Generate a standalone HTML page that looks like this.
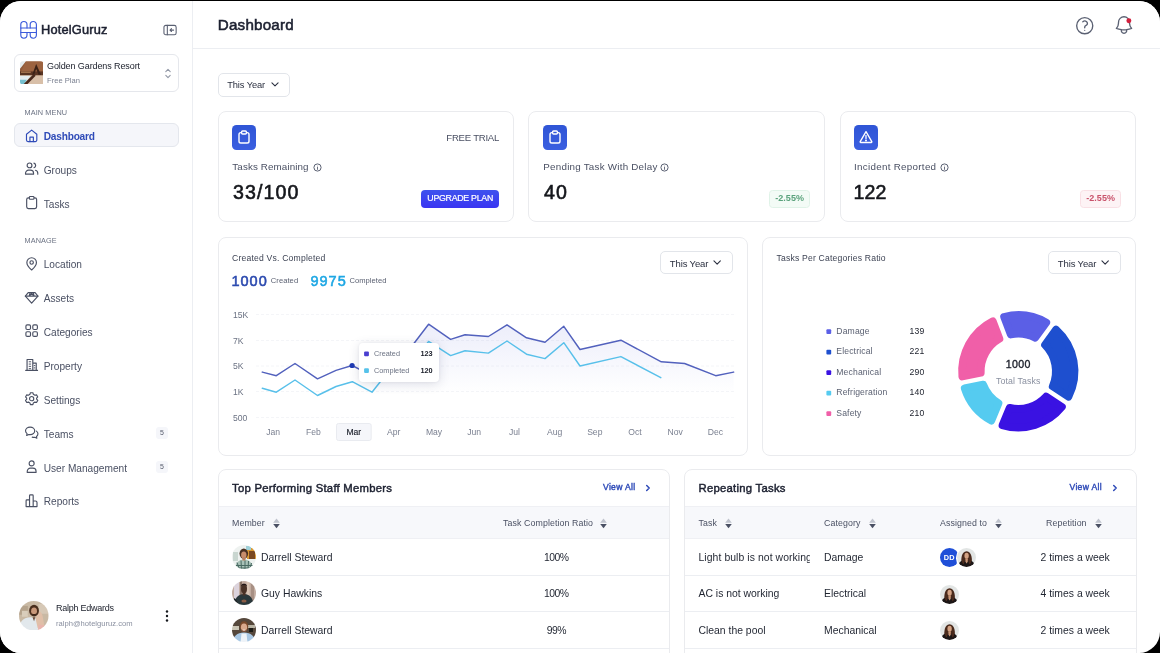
<!DOCTYPE html>
<html>
<head>
<meta charset="utf-8">
<title>Dashboard</title>
<style>
*{box-sizing:border-box;margin:0;padding:0}
html,body{width:1160px;height:653px;overflow:hidden;background:#000;font-family:"Liberation Sans",sans-serif;color:#1f2430}
#app{position:absolute;left:0;top:1px;width:1160px;height:652px;background:#fff;border-radius:21px;overflow:hidden}
.abs{position:absolute}
.t{position:absolute;white-space:nowrap;line-height:1}
#side,#head,#content{will-change:transform}
#side{position:absolute;left:0;top:0;width:193px;height:100%;border-right:1px solid #eceef2;background:#fff}
#head{position:absolute;left:193px;top:0;right:0;height:48px;border-bottom:1px solid #eceef2;background:#fff}
.card{position:absolute;background:#fff;border:1px solid #eaebee;border-radius:8px}
.mi{position:absolute;left:43.700px;font-size:10.150px;color:#4a5063;white-space:nowrap;line-height:1;letter-spacing:0}
.ic{position:absolute;left:24.100px;width:15.300px;height:15.300px;stroke:#4a5063;fill:none;stroke-width:1.200;stroke-linecap:round;stroke-linejoin:round}
.lbl{position:absolute;left:24.500px;font-size:7.300px;color:#6b7283;letter-spacing:.1px;line-height:1}
.badge{position:absolute;left:156px;width:12px;height:12px;border-radius:3px;background:#f5f6fa;font-size:7px;color:#555b6b;text-align:center;line-height:12px}
.btn{position:absolute;border:1px solid #e2e5ea;border-radius:5px;background:#fff;font-size:9px;color:#2b3040;line-height:1}

.sq{position:absolute;width:24px;height:24.700px;border-radius:4.5px;background:linear-gradient(180deg,#2f55d6,#3b5fe0)}
.sl{font-size:9.800px;color:#4a5063;letter-spacing:.120px}
.big{font-size:19.600px;color:#15171c;-webkit-text-stroke:.600px #15171c;letter-spacing:1.100px}
.tt{font-size:11.300px;color:#1c2030;-webkit-text-stroke:.450px #1c2030;letter-spacing:.260px}
.va{font-size:8.600px;color:#2f4bb8;-webkit-text-stroke:.400px #2f4bb8;letter-spacing:.300px}
.th{font-size:8.8px;color:#4a5063;letter-spacing:.1px}
.td{font-size:10.400px;color:#1f2430;letter-spacing:0}
</style>
</head>
<body>
<div id="app">

<!-- SIDEBAR -->
<div id="side">
  <svg class="abs" style="left:19px;top:17.700px" width="20" height="22" viewBox="0 0 20 22" fill="none" stroke="#3b5bdb" stroke-width="1.15" stroke-linecap="round" stroke-linejoin="round">
    <path d="M1.8 9V5.600a3.100 3.100 0 0 1 6.200 0V9M11.200 9V5.600a3.100 3.100 0 0 1 6.200 0V9"/>
    <path d="M1.800 13.500v2.600a3.100 3.100 0 0 0 6.200 0v-2.600M11.200 13.500v2.600a3.100 3.100 0 0 0 6.200 0v-2.600"/>
    <path d="M1.800 9h15.600v4.500H1.800z"/>
  </svg>
  <div class="t" style="left:41px;top:23.400px;font-size:12.800px;color:#1c2030;-webkit-text-stroke:.500px #1c2030;letter-spacing:.180px">HotelGuruz</div>
  <svg class="abs" style="left:162.500px;top:22.700px" width="14.100" height="12.200" viewBox="0 0 15 13" fill="none" stroke="#5a6072" stroke-width="1.150" stroke-linecap="round" stroke-linejoin="round">
    <rect x="1" y="1.5" width="13" height="10" rx="2"/><path d="M4.600 1.500v10M11.300 6.500H7.600M9 5 7.500 6.500 9 8"/>
  </svg>

  <div class="abs" style="left:14px;top:53px;width:165px;height:38px;border:1px solid #e5e7ec;border-radius:6px"></div>
  <svg class="abs" style="left:19.700px;top:59.700px" width="23.500" height="23.800" viewBox="0 0 24 24"><defs><clipPath id="ct"><rect width="24" height="24" rx="3"/></clipPath><filter id="bl2" x="-10%" y="-10%" width="120%" height="120%"><feGaussianBlur stdDeviation=".800"/></filter></defs><g clip-path="url(#ct)"><g filter="url(#bl2)"><rect x="-2" y="-2" width="28" height="28" fill="#8f5a3a"/><path d="M-1 -1h8L-1 9z" fill="#e4eaec"/><path d="M6 0h19v11H1z" fill="#9c633f"/><path d="M-1 10.500h26v4H-1z" fill="#5a3423"/><path d="M1 11.300h10" stroke="#d9a070" stroke-width=".800"/><path d="M-1 14.500h26v11H-1z" fill="#d8bfa8"/><path d="M-1 15h12l-8 10H-1z" fill="#e6eef0"/><path d="M-1 19h8l-4 6h-4z" fill="#76c0cf"/><path d="M16.500 3l-4 11h2l2-6 2.500 6h2.500z" fill="#3a2118"/><path d="M14 13l2 2L6 25H2z" fill="#4a2b1f"/><path d="M12 24h13v2H12z" fill="#7a4a34"/></g></g></svg>
  <div class="t" style="left:47px;top:61px;font-size:9px;color:#20242f;letter-spacing:-.100px">Golden Gardens Resort</div>
  <div class="t" style="left:47px;top:76px;font-size:7.6px;color:#7b8191">Free Plan</div>
  <svg class="abs" style="left:163.900px;top:65.600px" width="8" height="13" viewBox="0 0 8 13" fill="none" stroke="#9298a6" stroke-width="1.100" stroke-linecap="round" stroke-linejoin="round"><path d="M1.800 4.600 4 2.4l2.2 2.2M1.8 8.4 4 10.6l2.2-2.2"/></svg>

  <div class="lbl" style="top:107.900px">MAIN MENU</div>
  <div class="abs" style="left:14px;top:122.300px;width:165px;height:23.600px;border:1px solid #e4e7ed;border-radius:6px;background:#f5f6fa"></div>
  <svg class="ic" style="top:126.5px;stroke:#2f4bb8" viewBox="0 0 16 16"><path d="M2.6 6.6 8 2.200l5.400 4.400v6a1.600 1.600 0 0 1-1.600 1.600H4.200a1.600 1.600 0 0 1-1.600-1.600z"/><path d="M6.200 14.200V9.600h3.600v4.600"/></svg>
  <div class="mi" style="top:131.4px;color:#2f4bb8;font-weight:700;letter-spacing:-.2px">Dashboard</div>
  <svg class="ic" style="top:160.3px" viewBox="0 0 16 16"><circle cx="5.800" cy="4.600" r="2.500"/><path d="M1.600 13.800v-1a3.200 3.200 0 0 1 3.200-3.200h2a3.200 3.200 0 0 1 3.200 3.200v1z"/><path d="M10.400 2.200a2.500 2.500 0 0 1 0 4.800M12 9.700a3.200 3.200 0 0 1 2.400 3.100v1"/></svg>
  <div class="mi" style="top:165.2px">Groups</div>
  <svg class="ic" style="top:194.1px" viewBox="0 0 16 16"><rect x="2.800" y="3" width="10.400" height="11.200" rx="1.800"/><rect x="5.600" y="1.600" width="4.800" height="2.800" rx=".800" fill="#fff"/></svg>
  <div class="mi" style="top:199.0px">Tasks</div>
  <div class="lbl" style="top:236px">MANAGE</div>
  <svg class="ic" style="top:254.6px" viewBox="0 0 16 16"><path d="M8 14.600S3 10.400 3 6.800a5 5 0 0 1 10 0c0 3.600-5 7.800-5 7.800z"/><circle cx="8" cy="6.800" r="1.800"/></svg>
  <div class="mi" style="top:258.9px">Location</div>
  <svg class="ic" style="top:288.5px" viewBox="0 0 16 16"><path d="M4.400 2.800h7.200L14.600 6.400 8 13.800 1.400 6.400z"/><path d="M1.400 6.400h13.200M6.400 2.800 5.400 6.400M9.600 2.800l1 3.600M5.400 6.400 8 3.600l2.600 2.800"/></svg>
  <div class="mi" style="top:293.4px">Assets</div>
  <svg class="ic" style="top:322.3px" viewBox="0 0 16 16"><rect x="2" y="2" width="4.800" height="4.800" rx="1.300"/><rect x="9.200" y="2" width="4.800" height="4.800" rx="1.300"/><rect x="2" y="9.200" width="4.800" height="4.800" rx="1.300"/><rect x="9.200" y="9.200" width="4.800" height="4.800" rx="1.300"/></svg>
  <div class="mi" style="top:327.2px">Categories</div>
  <svg class="ic" style="top:356.2px" viewBox="0 0 16 16"><path d="M3.200 14V2.600h6V14M9.200 6.400h3.600V14M1.800 14h12.400"/><path d="M5.400 5h1.600M5.400 7.400h1.600M5.400 9.800h1.600M5.400 12.200h1.600M10.600 9h.8M10.600 11.400h.8" stroke-width="1"/></svg>
  <div class="mi" style="top:361.1px">Property</div>
  <svg class="ic" style="top:390.0px" viewBox="0 0 16 16"><path d="M6.700 1.800h2.600l.5 1.700 1.600.9 1.700-.4 1.300 2.200-1.200 1.300v1l1.200 1.300-1.300 2.200-1.700-.4-1.600.9-.5 1.700H6.700l-.5-1.700-1.600-.9-1.700.4-1.300-2.200 1.200-1.300v-1L1.600 6.200l1.300-2.200 1.700.4 1.600-.9z"/><circle cx="8" cy="8" r="2.200"/></svg>
  <div class="mi" style="top:394.9px">Settings</div>
  <svg class="ic" style="top:423.9px" viewBox="0 0 16 16"><path d="M6.400 2.200c-2.700 0-4.800 1.700-4.800 3.900 0 1.200.6 2.200 1.600 2.900l-.4 2 2.200-1.100c.5.100.9.100 1.400.100 2.700 0 4.800-1.700 4.800-3.900s-2.100-3.900-4.800-3.900z"/><path d="M13 6.400c1 .7 1.600 1.700 1.600 2.800s-.6 2.100-1.500 2.800l.3 1.900-2-1c-.9.200-2 .100-2.800-.2"/></svg>
  <div class="mi" style="top:428.8px">Teams</div>
  <div class="badge" style="top:425.6px">5</div>
  <svg class="ic" style="top:457.8px" viewBox="0 0 16 16"><circle cx="8" cy="4.600" r="2.600"/><path d="M3.400 14v-1.200a3.200 3.200 0 0 1 3.200-3.200h2.800a3.200 3.200 0 0 1 3.200 3.200V14z"/></svg>
  <div class="mi" style="top:462.7px">User Management</div>
  <div class="badge" style="top:459.5px">5</div>
  <svg class="ic" style="top:491.6px" viewBox="0 0 16 16"><path d="M2.200 14.200V8a.800.800 0 0 1 .800-.800h2.800v7zM5.800 14.200V2.800a.800.800 0 0 1 .800-.800h2.200a.800.800 0 0 1 .800.800v11.400zM9.600 14.200V8.400h2.400a1.600 1.600 0 0 1 1.600 1.600v4.200z"/></svg>
  <div class="mi" style="top:495.9px">Reports</div>

  <svg class="abs" style="left:19px;top:599.700px" width="29.500" height="29.500" viewBox="0 0 30 30"><use href="#avu"/></svg>
  <div class="t" style="left:56px;top:603px;font-size:9px;color:#20242f;letter-spacing:-.250px">Ralph Edwards</div>
  <div class="t" style="left:56px;top:619px;font-size:7.600px;color:#8a90a0">ralph@hotelguruz.com</div>
  <svg class="abs" style="left:164px;top:608px" width="6" height="14" viewBox="0 0 6 14"><circle cx="3" cy="2.500" r="1.200" fill="#15171c"/><circle cx="3" cy="7" r="1.200" fill="#15171c"/><circle cx="3" cy="11.500" r="1.200" fill="#15171c"/></svg>
</div>

<!-- HEADER -->
<div id="head">
  <div class="t" style="left:24.800px;top:16px;font-size:15.200px;color:#1c2030;-webkit-text-stroke:.550px #1c2030;letter-spacing:.190px">Dashboard</div>
  <svg class="abs" style="left:881.300px;top:13.500px" width="21.460" height="21.460" viewBox="0 0 24 24" fill="none" stroke="#5a6072" stroke-width="1.500" stroke-linecap="round" stroke-linejoin="round"><circle cx="12" cy="12" r="9"/><path d="M9.879 7.519c1.171-1.025 3.071-1.025 4.242 0 1.172 1.025 1.172 2.687 0 3.712-.203.179-.43.326-.67.442-.745.361-1.450.999-1.450 1.827v.750"/><circle cx="12" cy="17.100" r=".700" fill="#5a6072" stroke="none"/></svg>
  <svg class="abs" style="left:919.800px;top:12.500px" width="22" height="22" viewBox="0 0 24 24" fill="none" stroke="#5a6072" stroke-width="1.450" stroke-linecap="round" stroke-linejoin="round"><path d="M14.857 17.082a23.848 23.848 0 0 0 5.454-1.310A8.967 8.967 0 0 1 18 9.750V9A6 6 0 0 0 6 9v.750a8.967 8.967 0 0 1-2.312 6.022c1.733.640 3.560 1.085 5.455 1.310m5.714 0a24.255 24.255 0 0 1-5.714 0m5.714 0a3 3 0 1 1-5.714 0"/><circle cx="17.300" cy="7.300" r="2.700" fill="#d21f3c" stroke="none"/></svg>
</div>

<!-- CONTENT -->
<div id="content" class="abs" style="left:0;top:0;width:1160px;height:672px">
<!-- filter button -->
<div class="btn" style="left:218px;top:72px;width:72px;height:24px"></div>
<div class="t" style="left:227.200px;top:79.700px;font-size:9.300px;color:#2b3040;letter-spacing:-.100px">This Year</div>
<svg class="abs" style="left:270.500px;top:81.200px" width="8" height="5.300" viewBox="0 0 9 6" fill="none" stroke="#2b3040" stroke-width="1.2" stroke-linecap="round" stroke-linejoin="round"><path d="M1 1l3.500 3.500L8 1"/></svg>

<!-- stat cards -->
<div class="card" style="left:218px;top:110px;width:296px;height:111px"></div>
<div class="card" style="left:528px;top:110px;width:296.500px;height:111px"></div>
<div class="card" style="left:840px;top:110px;width:296px;height:111px"></div>

<div class="sq" style="left:232px;top:124.300px"><svg width="24" height="24" viewBox="0 0 24 24" fill="none" stroke="#fff" stroke-width="1.400" stroke-linecap="round" stroke-linejoin="round"><rect x="7" y="7.600" width="10" height="10.400" rx="1.800"/><rect x="9.600" y="6" width="4.800" height="3" rx="1" fill="#3258d8"/></svg></div>
<div class="sq" style="left:543px;top:124.300px"><svg width="24" height="24" viewBox="0 0 24 24" fill="none" stroke="#fff" stroke-width="1.400" stroke-linecap="round" stroke-linejoin="round"><rect x="7" y="7.600" width="10" height="10.400" rx="1.800"/><rect x="9.600" y="6" width="4.800" height="3" rx="1" fill="#3258d8"/></svg></div>
<div class="sq" style="left:854px;top:124.300px"><svg width="24" height="24" viewBox="0 0 24 24" fill="none" stroke="#fff" stroke-width="1.300" stroke-linecap="round" stroke-linejoin="round"><path d="M12 6.600 17.800 16.600a.6.600 0 0 1-.5.900H6.700a.6.600 0 0 1-.5-.9z"/><path d="M12 10.600v3"/><circle cx="12" cy="15.500" r=".400" fill="#fff"/></svg></div>

<div class="t sl" style="left:232.300px;top:160.700px">Tasks Remaining</div>
<div class="t sl" style="left:543.300px;top:160.700px;letter-spacing:.240px">Pending Task With Delay</div>
<div class="t sl" style="left:854.100px;top:160.700px;letter-spacing:.290px">Incident Reported</div>
<svg class="abs info" style="left:312.500px;top:161.500px" width="9" height="9" viewBox="0 0 9 9"><circle cx="4.500" cy="4.500" r="3.600" fill="none" stroke="#5a6072" stroke-width="1"/><path d="M4.500 4.200v2.200" stroke="#5a6072" stroke-width=".900" stroke-linecap="round"/><circle cx="4.500" cy="2.900" r=".450" fill="#5a6072"/></svg>
<svg class="abs info" style="left:660px;top:161.500px" width="9" height="9" viewBox="0 0 9 9"><circle cx="4.500" cy="4.500" r="3.600" fill="none" stroke="#5a6072" stroke-width="1"/><path d="M4.500 4.200v2.200" stroke="#5a6072" stroke-width=".900" stroke-linecap="round"/><circle cx="4.500" cy="2.900" r=".450" fill="#5a6072"/></svg>
<svg class="abs info" style="left:940px;top:161.500px" width="9" height="9" viewBox="0 0 9 9"><circle cx="4.500" cy="4.500" r="3.600" fill="none" stroke="#5a6072" stroke-width="1"/><path d="M4.500 4.200v2.200" stroke="#5a6072" stroke-width=".900" stroke-linecap="round"/><circle cx="4.500" cy="2.900" r=".450" fill="#5a6072"/></svg>

<div class="t big" style="left:233px;top:182.400px">33/100</div>
<div class="t big" style="left:544px;top:182.400px">40</div>
<div class="t big" style="left:853.600px;top:182.400px;letter-spacing:.100px">122</div>

<div class="t" style="left:446.300px;top:132.300px;font-size:9.600px;color:#4a5063;letter-spacing:-.250px">FREE TRIAL</div>
<div class="abs" style="left:421px;top:188.500px;width:78.300px;height:18px;border-radius:4px;background:linear-gradient(180deg,#3f52ee,#3a35f2)"></div>
<div class="t" style="left:427.300px;top:193px;font-size:8.800px;color:#fff;-webkit-text-stroke:.200px #fff;letter-spacing:-.270px">UPGRADE PLAN</div>

<div class="abs" style="left:769px;top:188.600px;width:41px;height:18.200px;border-radius:3.500px;background:#f3fbf6;border:1px solid #e0f3e8"></div>
<div class="t" style="left:775.200px;top:193.200px;font-size:9px;font-weight:700;color:#5aa27c;letter-spacing:.050px">-2.55%</div>
<div class="abs" style="left:1080px;top:188.600px;width:41px;height:18.200px;border-radius:3.500px;background:#fdf3f5;border:1px solid #f9e0e5"></div>
<div class="t" style="left:1086.200px;top:193.200px;font-size:9px;font-weight:700;color:#c9526b;letter-spacing:.050px">-2.55%</div>
<!-- chart card -->
<div class="card" style="left:218px;top:236px;width:529.500px;height:219px"></div>
<div class="t" style="left:232px;top:252.500px;font-size:8.600px;color:#3d4354;letter-spacing:.200px">Created Vs. Completed</div>
<div class="t" style="left:231.600px;top:272.600px;font-size:14.500px;color:#2c4aaf;-webkit-text-stroke:.550px #2c4aaf;letter-spacing:.950px">1000</div>
<div class="t" style="left:270.800px;top:275.800px;font-size:7.600px;color:#5b6172;letter-spacing:.050px">Created</div>
<div class="t" style="left:310.600px;top:272.600px;font-size:14.500px;color:#1ea7e4;-webkit-text-stroke:.550px #1ea7e4;letter-spacing:.950px">9975</div>
<div class="t" style="left:349.400px;top:275.800px;font-size:7.600px;color:#5b6172;letter-spacing:.050px">Completed</div>
<div class="btn" style="left:660px;top:250px;width:73px;height:23.400px"></div>
<div class="t" style="left:669.800px;top:257.500px;font-size:9.500px;color:#2b3040;letter-spacing:-.120px">This Year</div>
<svg class="abs" style="left:713.300px;top:259.300px" width="8.300" height="5.500" viewBox="0 0 9 6" fill="none" stroke="#2b3040" stroke-width="1.200" stroke-linecap="round" stroke-linejoin="round"><path d="M1 1l3.500 3.500L8 1"/></svg>

<svg class="abs" style="left:218px;top:236px" width="530" height="219" viewBox="218 237 530 219">
  <defs><linearGradient id="ag" x1="0" y1="322" x2="0" y2="394" gradientUnits="userSpaceOnUse"><stop offset="0" stop-color="#5f6ad8" stop-opacity=".120"/><stop offset="1" stop-color="#5f6ad8" stop-opacity="0"/></linearGradient></defs>
  <g stroke="#f4f5f8" stroke-width="1" stroke-dasharray="3 2">
    <path d="M256 314.500H736M256 340.500H736M256 366H736M256 391.500H736M256 417.500H736"/>
  </g>
  <path fill="url(#ag)" d="M372 375.700L395 350L412 346L428.600 324.200L450.600 339.400L465 334.800L488.400 336.500L507 324.800L526.500 337.800L545 342.200L563.800 326.300L580 349.500L620.900 340.200L661.300 361.800L684.600 363.500L715.700 375.700L733.600 372.100V396H372z"/>
  <path fill="none" stroke="#58c0ea" stroke-width="1.450" stroke-linejoin="round" stroke-linecap="round" d="M262.300 388.200L276.300 392.200L295 380L317.500 395.500L336 386.500L352.300 381.700L372 392.200L395 363L412 363L428.600 341.400L450.600 355.600L465 350.800L488.400 353.100L507 341L526.500 354.200L545 358.600L563.800 342.700L580 366L620.900 356.600L660.800 377.700"/>
  <path fill="none" stroke="#5261bd" stroke-width="1.450" stroke-linejoin="round" stroke-linecap="round" d="M262.300 372.100L276.300 375.700L295 363.500L317.500 378.800L336 370.400L352.100 365.500L372 375.700L395 350L412 346L428.600 324.200L450.600 339.400L465 334.800L488.400 336.500L507 324.800L526.500 337.800L545 342.200L563.800 326.300L580 349.500L620.900 340.200L661.300 361.800L684.600 363.500L715.700 375.700L733.600 372.100"/>
  <circle cx="352.100" cy="365.500" r="2.600" fill="#1f3bb3"/>
  <g font-family="Liberation Sans, sans-serif" font-size="8.600" fill="#6b7283">
    <text x="233" y="317.700">15K</text><text x="233" y="343.500">7K</text><text x="233" y="369.200">5K</text><text x="233" y="394.900">1K</text><text x="233" y="420.600">500</text>
  </g>
  <rect x="336.500" y="423.500" width="34.700" height="17" rx="2" fill="#f5f6fa" stroke="#e9ebf0" stroke-width="1"/>
  <g font-family="Liberation Sans, sans-serif" font-size="8.600" fill="#7b8191" text-anchor="middle">
    <text x="273.200" y="435.300">Jan</text><text x="313.400" y="435.300">Feb</text><text x="353.800" y="435.300" fill="#20242f" stroke="#20242f" stroke-width=".150">Mar</text><text x="393.800" y="435.300">Apr</text><text x="434" y="435.300">May</text><text x="474.200" y="435.300">Jun</text><text x="514.400" y="435.300">Jul</text><text x="554.600" y="435.300">Aug</text><text x="594.800" y="435.300">Sep</text><text x="635" y="435.300">Oct</text><text x="675.200" y="435.300">Nov</text><text x="715.400" y="435.300">Dec</text>
  </g>
</svg>
<!-- tooltip -->
<div class="abs" style="left:358.500px;top:341.800px;width:80.500px;height:39.500px;background:#fff;border-radius:4px;box-shadow:0 2px 11px rgba(40,50,90,.15),0 0 3px rgba(40,50,90,.07)"></div>
<div class="t" style="left:374px;top:349.300px;font-size:7.300px;color:#6b7283">Created</div>
<div class="t" style="left:374px;top:366.100px;font-size:7.300px;color:#6b7283">Completed</div>
<div class="t" style="left:420.500px;top:349.300px;font-size:7.300px;font-weight:700;color:#20242f">123</div>
<div class="t" style="left:420.500px;top:366.100px;font-size:7.300px;font-weight:700;color:#20242f">120</div>
<!-- donut card -->
<div class="card" style="left:761.7px;top:236px;width:374.3px;height:219px"></div>
<div class="t" style="left:776.500px;top:252.500px;font-size:8.600px;color:#3d4354;letter-spacing:.200px">Tasks Per Categories Ratio</div>
<div class="btn" style="left:1048px;top:250px;width:73px;height:23.400px"></div>
<div class="t" style="left:1057.800px;top:257.500px;font-size:9.500px;color:#2b3040;letter-spacing:-.120px">This Year</div>
<svg class="abs" style="left:1101.300px;top:259.300px" width="8.300" height="5.500" viewBox="0 0 9 6" fill="none" stroke="#2b3040" stroke-width="1.2" stroke-linecap="round" stroke-linejoin="round"><path d="M1 1l3.5 3.5L8 1"/></svg>
<div class="t" style="left:836.3px;top:325.8px;font-size:8.6px;color:#5b6172;letter-spacing:.15px">Damage</div>
<div class="t" style="left:909.5px;top:325.8px;font-size:8.6px;color:#20242f;letter-spacing:.2px">139</div>
<div class="t" style="left:836.3px;top:346.3px;font-size:8.6px;color:#5b6172;letter-spacing:.15px">Electrical</div>
<div class="t" style="left:909.5px;top:346.3px;font-size:8.6px;color:#20242f;letter-spacing:.2px">221</div>
<div class="t" style="left:836.3px;top:366.8px;font-size:8.6px;color:#5b6172;letter-spacing:.15px">Mechanical</div>
<div class="t" style="left:909.5px;top:366.8px;font-size:8.6px;color:#20242f;letter-spacing:.2px">290</div>
<div class="t" style="left:836.3px;top:387.3px;font-size:8.6px;color:#5b6172;letter-spacing:.15px">Refrigeration</div>
<div class="t" style="left:909.5px;top:387.3px;font-size:8.6px;color:#20242f;letter-spacing:.2px">140</div>
<div class="t" style="left:836.3px;top:407.8px;font-size:8.6px;color:#5b6172;letter-spacing:.15px">Safety</div>
<div class="t" style="left:909.5px;top:407.8px;font-size:8.6px;color:#20242f;letter-spacing:.2px">210</div>
<svg class="abs" style="left:940px;top:299px" width="160" height="140" viewBox="940 300 160 140">
<path d="M1004.03 316.84A56.30 56.30 0 0 1 1046.35 322.49L1035.20 337.83A37.50 37.50 0 0 0 1010.76 334.57Z" fill="#5b5fe6" stroke="#5b5fe6" stroke-width="7.6" stroke-linejoin="round"/>
<path d="M1056.06 329.54A56.30 56.30 0 0 1 1068.52 396.76L1052.61 386.43A37.50 37.50 0 0 0 1044.91 344.88Z" fill="#1e4fcf" stroke="#1e4fcf" stroke-width="7.6" stroke-linejoin="round"/>
<path d="M1061.98 406.82A56.30 56.30 0 0 1 1002.42 425.31L1009.68 407.80A37.50 37.50 0 0 0 1046.08 396.49Z" fill="#3a12e2" stroke="#3a12e2" stroke-width="7.6" stroke-linejoin="round"/>
<path d="M991.33 420.72A56.30 56.30 0 0 1 964.64 388.34L983.22 384.56A37.50 37.50 0 0 0 998.59 403.20Z" fill="#55cbf0" stroke="#55cbf0" stroke-width="7.6" stroke-linejoin="round"/>
<path d="M962.25 376.58A56.30 56.30 0 0 1 992.81 321.10L999.55 338.83A37.50 37.50 0 0 0 980.83 372.80Z" fill="#f05fa8" stroke="#f05fa8" stroke-width="7.6" stroke-linejoin="round"/>

</svg>
<div class="t" style="left:988.300px;top:358.200px;width:60px;text-align:center;font-size:10.600px;color:#20242f;-webkit-text-stroke:.35px #20242f;letter-spacing:.4px">1000</div>
<div class="t" style="left:978.300px;top:376.200px;width:80px;text-align:center;font-size:8.800px;color:#8a90a0;letter-spacing:.1px">Total Tasks</div>
<svg class="abs" style="left:0;top:0" width="1160" height="652" viewBox="0 0 1160 652"><rect x="826.400" y="328.3" width="4.800" height="4.800" rx="1" fill="#5b5fe6"/><rect x="826.400" y="348.8" width="4.800" height="4.800" rx="1" fill="#1e4fcf"/><rect x="826.400" y="369.3" width="4.800" height="4.800" rx="1" fill="#3a12e2"/><rect x="826.400" y="389.8" width="4.800" height="4.800" rx="1" fill="#55cbf0"/><rect x="826.400" y="410.3" width="4.800" height="4.800" rx="1" fill="#f05fa8"/><rect x="364.100" y="350.400" width="4.800" height="4.800" rx="1" fill="#4a3fd0"/><rect x="364.100" y="367.200" width="4.800" height="4.800" rx="1" fill="#56c2ea"/></svg>
<!-- tables -->
<div class="card" style="left:218px;top:468.200px;width:451.500px;height:230px;overflow:hidden">
  <div class="abs" style="left:0;top:35.800px;width:100%;height:33.500px;background:#f7f8fb;border-top:1px solid #eff0f4;border-bottom:1px solid #eff0f4"></div>
  <div class="abs" style="left:0;top:105px;width:100%;height:1px;background:#eceef2"></div>
  <div class="abs" style="left:0;top:141.200px;width:100%;height:1px;background:#eceef2"></div>
  <div class="abs" style="left:0;top:177.400px;width:100%;height:1px;background:#eceef2"></div>
</div>
<div class="card" style="left:684px;top:468.200px;width:453px;height:230px;overflow:hidden">
  <div class="abs" style="left:0;top:35.800px;width:100%;height:33.500px;background:#f7f8fb;border-top:1px solid #eff0f4;border-bottom:1px solid #eff0f4"></div>
  <div class="abs" style="left:0;top:105px;width:100%;height:1px;background:#eceef2"></div>
  <div class="abs" style="left:0;top:141.200px;width:100%;height:1px;background:#eceef2"></div>
  <div class="abs" style="left:0;top:177.400px;width:100%;height:1px;background:#eceef2"></div>
</div>
<div class="t tt" style="left:232px;top:482.200px">Top Performing Staff Members</div>
<div class="t tt" style="left:698.500px;top:482.200px">Repeating Tasks</div>
<div class="t va" style="left:603px;top:482.300px">View All</div>
<svg class="abs" style="left:645px;top:482.500px" width="6" height="8" viewBox="0 0 6 8" fill="none" stroke="#2f4bb8" stroke-width="1.500" stroke-linecap="round" stroke-linejoin="round"><path d="M1.700 1.500 4.200 4 1.700 6.500"/></svg>
<div class="t va" style="left:1069.500px;top:482.300px">View All</div>
<svg class="abs" style="left:1111.500px;top:482.500px" width="6" height="8" viewBox="0 0 6 8" fill="none" stroke="#2f4bb8" stroke-width="1.500" stroke-linecap="round" stroke-linejoin="round"><path d="M1.700 1.500 4.200 4 1.700 6.500"/></svg>

<div class="t th" style="left:232px;top:517.500px">Member</div>
<div class="t th" style="left:503px;top:517.500px">Task Completion Ratio</div>
<div class="t th" style="left:698.500px;top:517.500px">Task</div>
<div class="t th" style="left:824px;top:517.500px">Category</div>
<div class="t th" style="left:940px;top:517.500px">Assigned to</div>
<div class="t th" style="left:1046px;top:517.500px">Repetition</div>
<svg class="abs so" style="left:273.3px;top:516.600px" width="7" height="11" viewBox="0 0 7 11"><path d="M3.500 .400 6.800 4.700H.200z" fill="#bfc3cd"/><path d="M.200 5.900h6.600L3.500 10.200z" fill="#4a5063"/></svg>
<svg class="abs so" style="left:600.3px;top:516.600px" width="7" height="11" viewBox="0 0 7 11"><path d="M3.500 .400 6.800 4.700H.200z" fill="#bfc3cd"/><path d="M.200 5.900h6.600L3.500 10.200z" fill="#4a5063"/></svg>
<svg class="abs so" style="left:725.3px;top:516.600px" width="7" height="11" viewBox="0 0 7 11"><path d="M3.500 .400 6.800 4.700H.200z" fill="#bfc3cd"/><path d="M.200 5.900h6.600L3.500 10.200z" fill="#4a5063"/></svg>
<svg class="abs so" style="left:869.3px;top:516.600px" width="7" height="11" viewBox="0 0 7 11"><path d="M3.500 .400 6.800 4.700H.200z" fill="#bfc3cd"/><path d="M.200 5.900h6.600L3.500 10.200z" fill="#4a5063"/></svg>
<svg class="abs so" style="left:995.3px;top:516.600px" width="7" height="11" viewBox="0 0 7 11"><path d="M3.500 .400 6.800 4.700H.200z" fill="#bfc3cd"/><path d="M.200 5.900h6.600L3.500 10.200z" fill="#4a5063"/></svg>
<svg class="abs so" style="left:1094.8px;top:516.600px" width="7" height="11" viewBox="0 0 7 11"><path d="M3.500 .400 6.800 4.700H.200z" fill="#bfc3cd"/><path d="M.200 5.900h6.600L3.500 10.200z" fill="#4a5063"/></svg>

<div class="t td" style="left:261px;top:551.500px">Darrell Steward</div>
<div class="t td" style="left:261px;top:587.700px">Guy Hawkins</div>
<div class="t td" style="left:261px;top:624.500px">Darrell Steward</div>
<div class="t td" style="left:526.300px;width:60px;text-align:center;letter-spacing:-.550px;top:551.500px">100%</div>
<div class="t td" style="left:526.300px;width:60px;text-align:center;letter-spacing:-.550px;top:587.700px">100%</div>
<div class="t td" style="left:526.300px;width:60px;text-align:center;letter-spacing:-.550px;top:624.500px">99%</div>

<div class="t td" style="left:698.500px;top:551.500px;width:111.400px;overflow:hidden;height:13px;letter-spacing:.080px">Light bulb is not working</div>
<div class="t td" style="left:698.500px;top:587.700px">AC is not working</div>
<div class="t td" style="left:698.500px;top:624.500px">Clean the pool</div>
<div class="t td" style="left:824px;top:551.500px">Damage</div>
<div class="t td" style="left:824px;top:587.700px">Electrical</div>
<div class="t td" style="left:824px;top:624.500px">Mechanical</div>
<div class="t td" style="left:1040.500px;top:551.500px">2 times a week</div>
<div class="t td" style="left:1040.500px;top:587.700px">4 times a week</div>
<div class="t td" style="left:1040.500px;top:624.500px">2 times a week</div>
<!-- avatars -->
<svg width="0" height="0" style="position:absolute">
  <defs>
    <clipPath id="cc"><circle cx="12" cy="12" r="12"/></clipPath>
    <filter id="bl" x="-10%" y="-10%" width="120%" height="120%"><feGaussianBlur stdDeviation=".700"/></filter><filter id="bls" x="-10%" y="-10%" width="120%" height="120%"><feGaussianBlur stdDeviation=".450"/></filter>
    <g id="av1" clip-path="url(#cc)"><g filter="url(#bl)"><rect x="-2" y="-2" width="28" height="28" fill="#eef2f0"/><rect x="1" y="7" width="5" height="9" fill="#c9d6d0"/><rect x="15" y="3" width="9" height="11" fill="#d99a35"/><rect x="17" y="6" width="6" height="8" fill="#7a4a22"/><rect x="14" y="1" width="5" height="4" fill="#9fd0d8"/><path d="M3 25c0-7 3.500-10.500 9-10.500S21 18 21 25z" fill="#a9c2b8"/><path d="M5 17.500l2.500 7M9 15.500l.5 9M13 15.500v9M16.500 16l-.5 8.500M19.500 18l-1.500 6M4 20.500h17M5 23h15" stroke="#4a6a62" stroke-width="1"/><ellipse cx="11.800" cy="8.600" rx="4.300" ry="5.200" fill="#4a3024"/><ellipse cx="11.800" cy="10" rx="2.700" ry="3.500" fill="#c88e6c"/><rect x="10.400" y="12.500" width="3" height="3" fill="#b87f5e"/></g></g>
    <g id="av2" clip-path="url(#cc)"><g filter="url(#bl)"><rect x="-2" y="-2" width="28" height="28" fill="#c2aca0"/><rect x="2" y="0" width="5" height="24" fill="#dcd3dc"/><rect x="8" y="0" width="2" height="14" fill="#8a7468"/><rect x="14.500" y="0" width="3" height="24" fill="#d8c4b4"/><rect x="19" y="0" width="3" height="24" fill="#a89084"/><path d="M2 25c0-7 3.500-12 10-12s9.500 5 9.500 12z" fill="#2c383b"/><path d="M2 17c2 1 4 4 5 8H1z" fill="#1c2426"/><ellipse cx="12" cy="8" rx="3" ry="4.200" fill="#4a3227"/><path d="M9 6.500c0-3.500 6-3.500 6 0l-.3-2.500c-1-1.600-4.400-1.600-5.400 0z" fill="#221712"/><rect x="10.500" y="11" width="3" height="3.500" fill="#4a3227"/><ellipse cx="12" cy="20" rx="2.600" ry="1.500" fill="#8a5c45"/></g></g>
    <g id="av3" clip-path="url(#cc)"><g filter="url(#bl)"><rect x="-2" y="-2" width="28" height="28" fill="#55463a"/><rect x="0" y="8" width="7" height="4" fill="#c9c4b4"/><rect x="16" y="7" width="7" height="3" fill="#b9b4a4"/><rect x="17" y="10" width="4" height="4" fill="#1c1a18"/><path d="M1 25c0-7 4-10.500 11-10.500S23 18 23 25z" fill="#a9c8e4"/><path d="M9.500 15.500h5l1 9.500h-7z" fill="#eef3f8"/><ellipse cx="12" cy="8.200" rx="4.200" ry="5" fill="#7a4a2c"/><ellipse cx="12" cy="9.600" rx="3.100" ry="4" fill="#d9a98c"/><path d="M8.800 10.500c.4 4.800 6 4.800 6.400 0-.8 1.800-1.600 2-3.200 2s-2.400-.2-3.200-2z" fill="#7a4a30"/><ellipse cx="12" cy="12" rx="1.300" ry=".600" fill="#f6efe9"/></g></g>
    <clipPath id="cw"><circle cx="10" cy="10" r="10"/></clipPath>
    <g id="avw" clip-path="url(#cw)"><g filter="url(#bls)"><rect x="-2" y="-2" width="24" height="24" fill="#e2e5e4"/><path d="M5 17c-1-4.500-.6-13.600 5.100-13.600S16.200 12.500 15.200 17z" fill="#4a2a1c"/><path d="M1 21.500c0-6 2.500-8.800 9-8.800s9 2.800 9 8.800z" fill="#1a1618"/><ellipse cx="10.100" cy="8.200" rx="2.300" ry="3.100" fill="#d3a283"/><path d="M8.700 11h2.800l-.2 3.400-1.200 1.800-1.200-1.800z" fill="#c99676"/><path d="M5.400 10c-.8 3.800-.2 6.200 1.800 7.400l1.400-4.800zM14.800 10c.8 3.800.2 6.200-1.800 7.400l-1.400-4.800z" fill="#4a2a1c"/></g></g>
    <clipPath id="cu"><circle cx="15" cy="15" r="15"/></clipPath>
    <g id="avu" clip-path="url(#cu)"><g filter="url(#bls)"><rect x="-2" y="-2" width="34" height="34" fill="#c9b9a4"/><rect x="0" y="5" width="9" height="9" fill="#b5a38c"/><rect x="20" y="3" width="10" height="10" fill="#d6c8b6"/><rect x="3" y="10" width="6" height="6" fill="#d9cdbb"/><path d="M0 32c0-10 3-15.500 12-15.500 5 0 7.500 3 8 8l1 7.500z" fill="#e2e8ec"/><path d="M19 10c3 0 5 3 5.500 8l1.500 9-7 .5-2-9z" fill="#e0bfa8"/><path d="M20 24l6 1-1 6-6-.5z" fill="#e8b4ac"/><ellipse cx="15.300" cy="9.800" rx="5" ry="6" fill="#4a2e1e"/><ellipse cx="15.300" cy="10.500" rx="3" ry="3.800" fill="#c9987a"/><path d="M12.300 11.500c.3 4.500 5.700 4.500 6 0-.8 1.500-1.500 1.800-3 1.800s-2.200-.3-3-1.800z" fill="#3e2618"/><path d="M13.800 16.500l1.500 4 1.200-4z" fill="#6a4a38"/></g></g>
  </defs>
</svg>
<svg class="abs" style="left:232px;top:544.400px" width="24" height="24" viewBox="0 0 24 24"><use href="#av1"/></svg>
<svg class="abs" style="left:232px;top:580px" width="24" height="24" viewBox="0 0 24 24"><use href="#av2"/></svg>
<svg class="abs" style="left:232px;top:616.600px" width="24" height="24" viewBox="0 0 24 24"><use href="#av3"/></svg>

<div class="abs" style="left:940px;top:547.300px;width:19px;height:19px;border-radius:50%;background:#1f4fd8;color:#fff;font-size:7.300px;font-weight:700;text-align:center;line-height:19.400px;letter-spacing:.100px;padding-right:.600px">DD</div>
<div class="abs" style="left:955.700px;top:546px;width:21.600px;height:21.600px;border-radius:50%;background:#fff"></div>
<svg class="abs" style="left:957px;top:547.300px" width="19" height="19" viewBox="0 0 20 20"><use href="#avw"/></svg>
<svg class="abs" style="left:940.300px;top:583.500px" width="19" height="19" viewBox="0 0 20 20"><use href="#avw"/></svg>
<svg class="abs" style="left:940.300px;top:619.700px" width="19" height="19" viewBox="0 0 20 20"><use href="#avw"/></svg>

</div>

</div>
</body>
</html>
